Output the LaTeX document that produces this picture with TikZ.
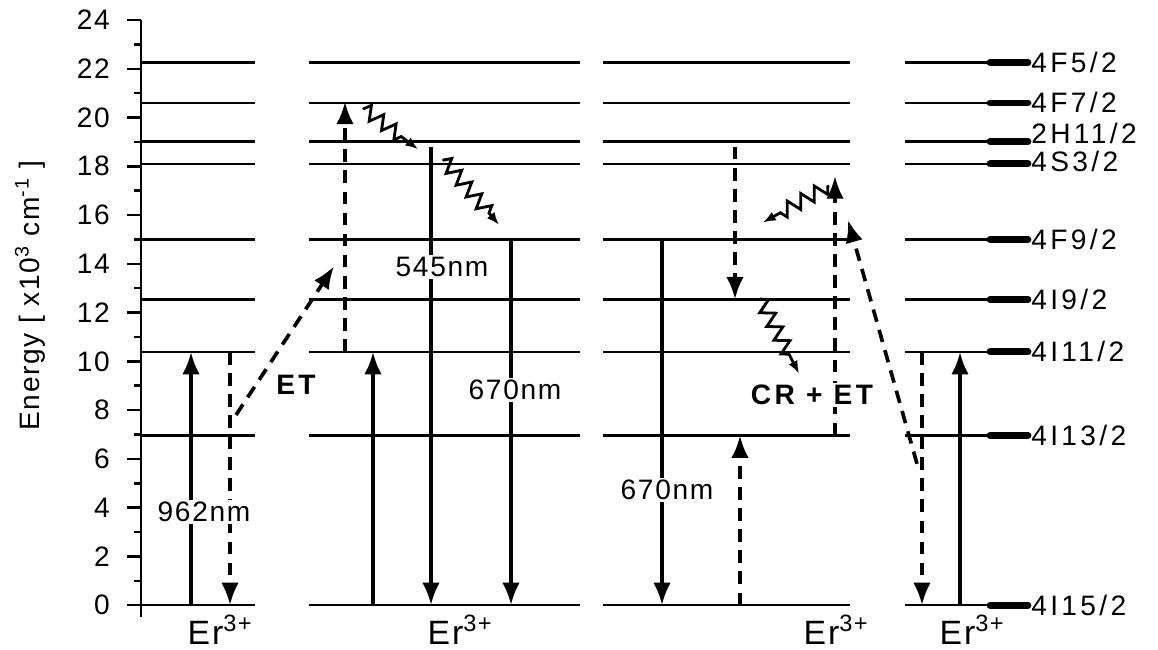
\documentclass[tikz,border=0pt]{standalone}
\usepackage{fontspec}
\setmainfont{Liberation Sans}
\newfontfamily\spaced[LetterSpace=6]{Liberation Sans}
\newfontfamily\wide[LetterSpace=12]{Liberation Sans}
\usetikzlibrary{arrows.meta,decorations.pathmorphing}

\tikzset{
  level/.style={line width=1.8pt},
  stub/.style={line width=4.8pt, line cap=round},
  radiative/.style={line width=2.8pt, -{Latex[length=16pt,width=12.5pt]}},
  transfer/.style={line width=2.6pt, dash pattern=on 9pt off 6pt, -{Latex[length=16pt,width=12.5pt]}},
  relax/.style={line width=2pt, -{Latex[length=9pt,width=7pt]}, decorate,
    decoration={zigzag, segment length=11pt, amplitude=5pt, pre length=1pt, post length=10pt}},
  wavelength/.style={fill=white, inner sep=1.5pt},
  process/.style={font=\wide\bfseries\fontsize{20}{22}\selectfont},
  term/.style={anchor=west, inner sep=0pt, font=\wide\fontsize{20}{22}\selectfont},
  ion/.style={inner sep=0pt, font=\spaced\fontsize{24}{26}\selectfont},
}

\begin{document}
\begin{tikzpicture}[x=0.025cm, y=0.609375cm, every node/.style={font=\spaced\fontsize{20}{22}\selectfont}]
    \useasboundingbox (0,-1.805) rectangle (1158,24.821);

    % energy axis
    \draw[level] (141,-0.5) -- (141,24);
    \foreach \e in {0,2,...,24} {
      \draw[level] (127,\e) -- (141,\e);
      \node[anchor=east, inner sep=0pt] (tick\e) at (110,\e) {\e};
    }
    \foreach \e in {1,3,...,23} {
      \draw[level] (134,\e) -- (141,\e);
    }
    \node[rotate=90] (ylabel) at (30,12.7) {Energy [ x10\textsuperscript{3} cm\textsuperscript{-1} ]};

    % levels of the four ions
    \foreach \e/\lab/\dy in {22.25/{4F5/2}/0, 20.6/{4F7/2}/0, 19.02/{2H11/2}/6,
        18.1/{4S3/2}/2, 15.0/{4F9/2}/0, 12.54/{4I9/2}/0, 10.39/{4I11/2}/0,
        6.96/{4I13/2}/0, 0/{4I15/2}/0} {
      \foreach \xa/\xb in {141/255, 309/580, 603/850, 905/987} {
        \draw[level] (\xa,\e) -- (\xb,\e);
      }
      \draw[stub] (990,\e) -- (1028,\e);
      \node[term, yshift=\dy pt] (term\e) at (1031,\e) {\lab};
    }
    \foreach \x/\n in {220/1, 460/2, 836/3, 972/4} {
      \node[ion] (er\n) at (\x,-1.0) {Er\textsuperscript{3+}};
    }

    \coordinate (u1a) at (191,0);      \coordinate (u1b) at (191,10.39);
    \coordinate (d1a) at (230,10.39);  \coordinate (d1b) at (230,0);
    \coordinate (et1a) at (236,7.8);   \coordinate (et1b) at (334,13.9);
    \coordinate (u2a) at (345,10.39);  \coordinate (u2b) at (345,20.65);
    \coordinate (u3a) at (373,0);      \coordinate (u3b) at (373,10.39);
    \coordinate (w1a) at (363,20.4);   \coordinate (w1b) at (418,18.7);
    \coordinate (g1a) at (431,18.8);   \coordinate (g1b) at (431,0);
    \coordinate (w2a) at (443,18.3);   \coordinate (w2b) at (499,15.6);
    \coordinate (r1a) at (511,15.0);   \coordinate (r1b) at (511,0);
    \coordinate (r2a) at (662,15.0);   \coordinate (r2b) at (662,0);
    \coordinate (d2a) at (735,18.8);   \coordinate (d2b) at (735,12.54);
    \coordinate (u4a) at (740,0);      \coordinate (u4b) at (740,6.96);
    \coordinate (w3a) at (760,12.6);   \coordinate (w3b) at (799,9.5);
    \coordinate (u5a) at (835,6.96);   \coordinate (u5b) at (835,17.6);
    \coordinate (w4a) at (829,17.2);   \coordinate (w4b) at (763,15.7);
    \coordinate (et2a) at (917,5.8);   \coordinate (et2b) at (848,15.8);
    \coordinate (d3a) at (922,10.39);  \coordinate (d3b) at (922,0);
    \coordinate (u6a) at (960,0);      \coordinate (u6b) at (960,10.39);

    \draw[radiative] (u1a) -- (u1b);
    \draw[transfer] (d1a) -- (d1b);
    \draw[transfer] (et1a) -- (et1b);
    \draw[transfer] (u2a) -- (u2b);
    \draw[radiative] (u3a) -- (u3b);
    \draw[relax] (w1a) -- (w1b);
    \draw[radiative] (g1a) -- (g1b);
    \draw[relax] (w2a) -- (w2b);
    \draw[radiative] (r1a) -- (r1b);
    \draw[radiative] (r2a) -- (r2b);
    \draw[transfer] (d2a) -- (d2b);
    \draw[transfer] (u4a) -- (u4b);
    \draw[relax] (w3a) -- (w3b);
    \draw[transfer] (u5a) -- (u5b);
    \draw[relax] (w4a) -- (w4b);
    \draw[transfer] (et2a) -- (et2b);
    \draw[transfer] (d3a) -- (d3b);
    \draw[radiative] (u6a) -- (u6b);

    \node[wavelength] (nm962) at (204,3.83) {962nm};
    \node[wavelength] (nm545) at (442,13.87) {545nm};
    \node[wavelength] (nm670a) at (515,8.82) {670nm};
    \node[wavelength] (nm670b) at (667,4.72) {670nm};
    \node[process] (et) at (296,9.03) {ET};
    \node[process, fill=white, inner sep=1.5pt] (cret) at (812,8.62) {CR + ET};
  \end{tikzpicture}
\end{document}
